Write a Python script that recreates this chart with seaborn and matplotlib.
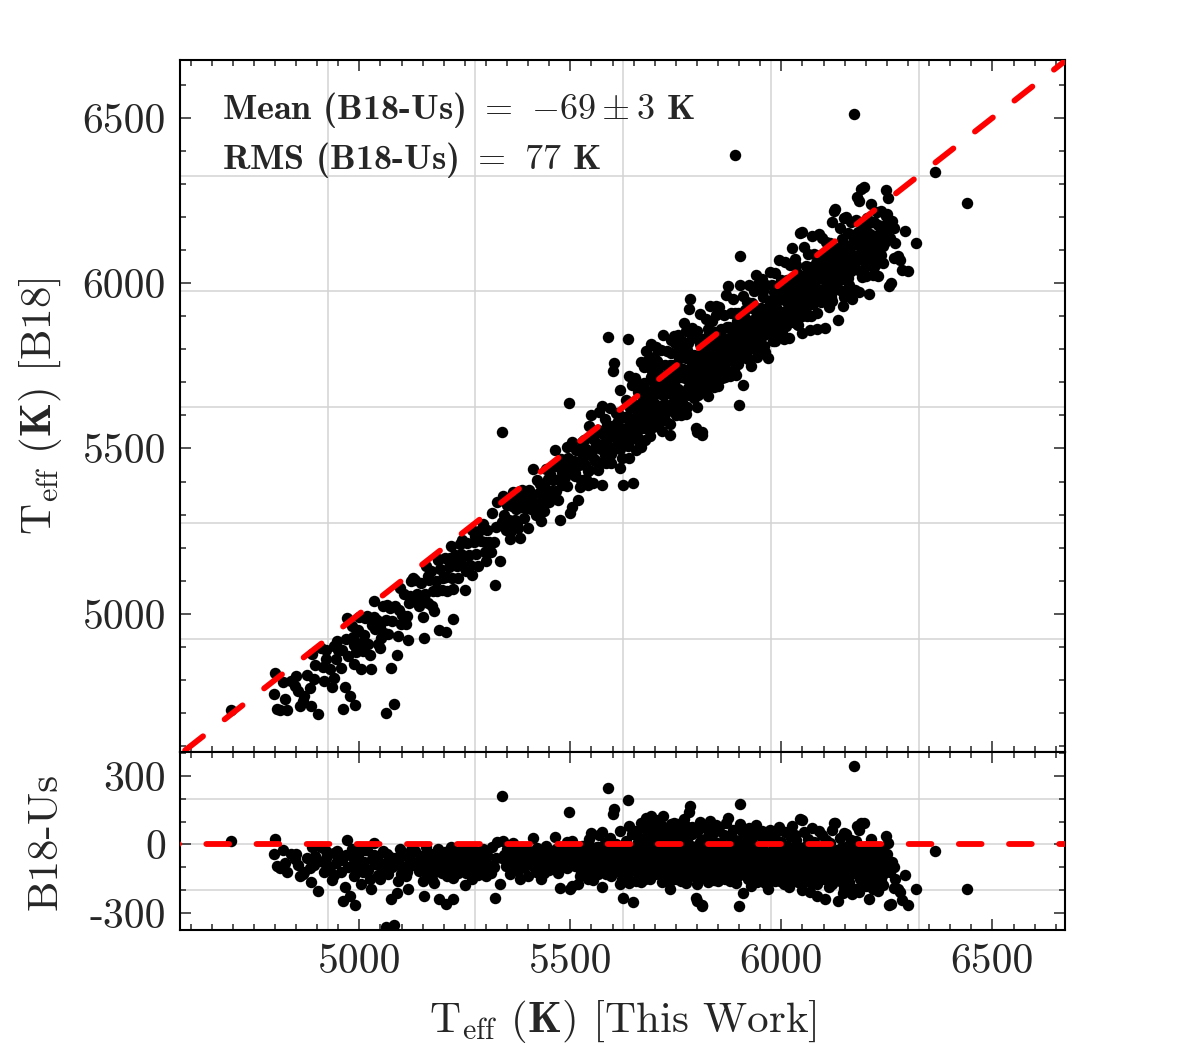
import numpy as np
import pandas as pd
import matplotlib
matplotlib.use("Agg")
import matplotlib.pyplot as plt
from matplotlib.ticker import MultipleLocator
import seaborn as sns

# ---------------- data: Teff (This Work) and B18 - Us differences ----------------
us_a = [4695, 4800, 4798, 4806, 4812, 4828, 4847, 4851, 4855, 4870,
        4882, 4886, 4902, 4888, 4908, 4914, 4922, 4930, 4935, 4940,
        4941, 4947, 4949, 4957, 4961, 4970, 4972, 4977, 4990, 4993,
        4997, 5003, 5005, 5013, 5018, 5034, 5028, 5042, 5044, 5048,
        5058, 5066, 5075, 5090, 5063, 5083, 5062, 5078, 5093, 5096,
        5115, 5123, 5112, 5092, 4960, 4985, 4988, 5010, 5020, 5025,
        5035, 5050, 5055, 5068, 5085, 5100, 5105, 5110, 5127, 5128,
        4965, 4982, 5000, 4920, 4895, 4875, 4860, 4838, 4818, 5038]
d_a = [15, 22, -40, -95, -102, -120, -65, -40, -88, -120,
       -105, -164, -206, -10, -12, -76, -60, -98, -155, -135,
       -37, -30, -60, -120, -250, 18, -100, -225, -265, -110,
       -46, -90, -172, -26, -24, 5, -194, -60, -135, -150,
       -115, -40, -238, -215, -362, -355, -80, -100, -80, -19,
       -194, -24, -120, -160, -70, -55, -140, -75, -110, -150,
       -45, -90, -30, -130, -60, -105, -45, -140, -20, -90,
       -185, -20, -10, -30, -50, -60, -140, -40, -25, -85]

us_b = [5133, 5137, 5141, 5146, 5150, 5153, 5155, 5158, 5162, 5166,
        5170, 5174, 5178, 5181, 5186, 5189, 5192, 5196, 5199, 5203,
        5205, 5208, 5212, 5216, 5219, 5222, 5222, 5226, 5231, 5234,
        5238, 5242, 5246, 5251, 5255, 5259, 5263, 5267, 5271, 5276,
        5280, 5284, 5289, 5293, 5298, 5302, 5306, 5311, 5315, 5321,
        5324, 5327, 5333, 5337, 5120, 5144, 5187, 5214, 5248, 5268]
d_b = [-30, -78, -118, -52, -160, -227, -95, -12, -130, -65,
       -40, -105, -170, -82, -20, -238, -58, -125, -90, -35,
       -261, -140, -70, -10, -110, -238, -147, -48, -85, -125,
       -28, -60, -100, -178, -42, -80, -115, -15, -55, -95,
       -135, -35, -70, -20, -110, -48, -88, -125, -10, -234,
       -60, 12, -172, 214, -65, -90, -25, -45, -72, -150]

us_c = [5340, 5343, 5347, 5350, 5354, 5357, 5361, 5364, 5368, 5371,
        5375, 5378, 5382, 5385, 5389, 5392, 5396, 5399, 5403, 5406,
        5409, 5411, 5414, 5418, 5421, 5425, 5428, 5431, 5435, 5438,
        5442, 5445, 5449, 5452, 5456, 5459, 5463, 5466, 5470, 5473,
        5475, 5477, 5481, 5484, 5488, 5491, 5495, 5496, 5499, 5500,
        5352, 5366, 5380, 5394, 5416, 5432, 5447, 5461, 5479, 5493]
d_c = [15, -45, -95, -20, -70, -130, -35, 5, -85, -55,
       -115, -25, -60, -10, -100, -40, -75, -140, -30, -90,
       -50, 27, -80, -120, -15, -60, -35, -150, -95, -45,
       -5, -70, -110, -30, -85, -55, 33, -20, -125, -65,
       -190, -10, -90, -40, -75, -105, -25, 142, -60, -194,
       -80, -15, -150, -60, -95, -75, -40, -100, -50, 10]

us_d = [5503, 5505, 5508, 5511, 5514, 5518, 5520, 5523, 5526, 5529,
        5532, 5535, 5538, 5541, 5544, 5547, 5550, 5553, 5554, 5557,
        5560, 5563, 5566, 5569, 5572, 5575, 5576, 5578, 5581, 5584,
        5587, 5590, 5591, 5593, 5596, 5600, 5601, 5603, 5605, 5608,
        5611, 5614, 5617, 5620, 5622, 5625, 5628, 5631, 5634, 5636,
        5638, 5640, 5642, 5645, 5647, 5649, 5512, 5537, 5566, 5594,
        5618, 5632, 5644, 5527, 5558, 5583, 5606, 5626, 5541, 5572]
d_d = [-180, 15, -45, -95, -20, -173, -70, -30, -120, -55,
       -5, -85, -40, -110, 25, -65, 52, -25, -157, -90,
       -50, -10, -130, 40, -75, 55, -187, -35, -100, -60,
       -15, 246, -85, 30, -140, 133, -45, 155, -70, 0,
       -110, -30, 59, -60, -150, -234, -90, 15, -40, 194,
       81, -170, -20, -100, 45, -253, -60, -130, -10, -25,
       -120, -70, -55, -8, -95, 5, -35, -80, -150, -115]

us_e = [5652, 5655, 5658, 5660, 5662, 5665, 5667, 5670, 5672, 5674,
        5676, 5678, 5680, 5682, 5684, 5686, 5688, 5690, 5692, 5694,
        5696, 5698, 5657, 5663, 5669, 5675, 5681, 5687, 5693, 5699,
        5701, 5703, 5705, 5708, 5710, 5712, 5714, 5716, 5718, 5720,
        5722, 5724, 5726, 5728, 5730, 5732, 5734, 5736, 5738, 5740,
        5742, 5744, 5746, 5748, 5750, 5706, 5713, 5721, 5729, 5737,
        5745, 5659, 5666, 5673, 5679, 5685, 5691, 5697, 5704, 5711,
        5717, 5725, 5733, 5741, 5749, 5654, 5668, 5683, 5700, 5715]
d_e = [-20, 45, -85, 10, -140, -50, 95, -30, -110, 25,
       -65, -5, 115, -95, -40, 60, -150, -15, 124, -75,
       -35, 80, -120, 5, -55, 70, -100, -25, 40, -60,
       -10, 105, -80, 20, -130, -45, 85, -20, -165, 124,
       -60, 30, -95, -5, 65, -120, -35, -194, 50, -70,
       10, -110, 95, -40, -150, 60, -25, -85, -55, 15,
       -90, -45, 30, -75, -10, -125, -60, 0, -100, 45,
       -30, -140, 5, -105, 70, 60, -165, 85, -130, -50]

us_f = [5752, 5754, 5756, 5758, 5760, 5762, 5764, 5766, 5768, 5770,
        5772, 5774, 5776, 5778, 5781, 5783, 5785, 5787, 5789, 5791,
        5793, 5795, 5797, 5799, 5801, 5803, 5805, 5807, 5809, 5811,
        5813, 5813, 5815, 5817, 5819, 5821, 5823, 5825, 5827, 5829,
        5830, 5832, 5834, 5836, 5838, 5840, 5842, 5844, 5846, 5848,
        5757, 5763, 5771, 5779, 5786, 5794, 5802, 5810, 5818, 5826,
        5834, 5843, 5761, 5775, 5790, 5806, 5822, 5839, 5755, 5849,
        5767, 5782, 5798, 5814, 5831, 5847, 5773, 5788, 5804, 5820]
d_f = [-20, 90, -75, 15, -135, -45, 60, -25, -100, 110,
       -60, 0, -150, 40, 142, 169, -85, -35, 75, -115,
       -10, -65, -234, -249, 55, -130, -40, 100, -90, 20,
       -271, -264, -50, -5, -120, 70, -30, -165, 35, -75,
       102, -15, -105, 50, -55, -140, 10, -85, 85, -35,
       -110, 25, -50, -95, -5, -70, -140, -25, -60, 15,
       -120, -45, -160, 80, -30, -115, -95, -70, 30, -160,
       -40, -120, -20, -100, -65, -10, -170, 45, -60, -145]

us_g = [5851, 5853, 5855, 5857, 5859, 5861, 5863, 5865, 5867, 5869,
        5871, 5874, 5876, 5878, 5880, 5882, 5884, 5886, 5888, 5890,
        5892, 5894, 5896, 5898, 5900, 5901, 5903, 5903, 5905, 5908,
        5910, 5912, 5914, 5916, 5918, 5920, 5922, 5924, 5926, 5928,
        5930, 5932, 5934, 5936, 5938, 5940, 5942, 5944, 5946, 5948,
        5856, 5864, 5872, 5881, 5889, 5897, 5906, 5915, 5923, 5931,
        5939, 5947, 5860, 5877, 5893, 5909, 5925, 5941, 5868, 5885]
d_g = [-20, 75, -90, 5, -145, -55, 40, -30, -110, 95,
       -65, 117, -10, -160, 30, -80, -40, 65, -125, 498,
       -25, -95, 15, -60, -268, -130, 179, 90, -45, -215,
       50, -110, -20, -75, 25, -150, -35, 70, -95, -180,
       -5, -60, -120, 40, -85, -15, -165, 55, -50, -100,
       -120, -70, -5, -100, 20, -140, -80, -130, -60, 10,
       -40, -145, -45, -90, -170, -30, -115, 85, -100, -60]

us_h = [5951, 5953, 5955, 5957, 5959, 5961, 5963, 5965, 5968, 5970,
        5972, 5974, 5976, 5978, 5980, 5982, 5984, 5986, 5988, 5990,
        5992, 5994, 5996, 5998, 6000, 6002, 6004, 6006, 6008, 6010,
        6012, 6014, 6016, 6018, 6020, 6022, 6024, 6026, 6028, 6030,
        6032, 6034, 6036, 6038, 6040, 6043, 6045, 6047, 6048, 6050,
        5958, 5967, 5977, 5987, 5997, 6007, 6017, 6027, 6037, 6046,
        5962, 5981, 6001, 6021, 6041, 5973, 5993, 6013, 6033, 6049]
d_h = [-25, 60, -95, 0, -150, -50, 30, -70, -194, -115,
       62, -35, -130, 15, -80, -10, -160, 45, -60, -105,
       -20, 75, -140, -45, 10, -90, -30, -175, 55, -65,
       -120, -5, -55, -185, 35, -100, -40, 80, -145, -15,
       -75, 20, -160, -50, -110, 110, -25, -90, 107, -200,
       -115, -80, -60, -125, -100, -20, -85, -120, -5, -60,
       -170, -30, -150, -65, -135, -90, -40, -95, 40, -130]

us_i = [6052, 6054, 6056, 6058, 6060, 6062, 6064, 6066, 6068, 6070,
        6072, 6074, 6076, 6078, 6080, 6082, 6084, 6085, 6088, 6090,
        6092, 6094, 6096, 6098, 6100, 6102, 6103, 6105, 6107, 6109,
        6111, 6113, 6115, 6117, 6119, 6121, 6124, 6126, 6128, 6130,
        6132, 6134, 6136, 6138, 6140, 6142, 6144, 6146, 6148, 6150,
        6057, 6067, 6077, 6087, 6097, 6108, 6118, 6129, 6139, 6149,
        6061, 6081, 6101, 6121, 6141, 6071, 6091, 6112, 6133, 6145]
d_i = [-30, 55, -105, -5, -160, -60, 25, -85, -209, -130,
       70, -40, -140, 10, -95, -20, -175, -224, 60, -70,
       -115, -10, 40, -55, -150, -90, -239, 20, -125, -35,
       -80, -185, 5, -45, -110, 65, 95, -70, 96, -140,
       -25, -246, -95, 30, -160, -55, -10, -120, 50, -85,
       -120, -45, -75, -105, -20, -65, -150, -30, -100, -190,
       -90, -125, -40, -100, -75, -170, -145, -25, -60, -215]

us_j = [6152, 6154, 6156, 6158, 6160, 6162, 6164, 6166, 6168, 6170,
        6171, 6172, 6174, 6176, 6178, 6180, 6182, 6184, 6186, 6189,
        6191, 6193, 6195, 6197, 6199, 6201, 6203, 6205, 6207, 6209,
        6211, 6213, 6215, 6218, 6220, 6222, 6224, 6226, 6228, 6230,
        6232, 6235, 6237, 6240, 6242, 6245, 6247, 6249, 6157, 6167,
        6177, 6187, 6198, 6208, 6217, 6227, 6238, 6163, 6183, 6216]
d_j = [-40, 45, -110, -5, -165, -70, 20, -130, -216, -85,
       342, -30, -195, 15, -100, 81, -55, 65, -150, 95,
       -75, -20, 96, -125, -45, -180, -5, -90, -240, -60,
       -115, 25, -160, -194, -35, -80, -130, -10, -205, -55,
       -100, -150, -20, -178, -70, -120, 36, -45, -140, -20,
       -60, -115, -150, -25, -95, -165, -90, -100, -210, -130]

us_k = [6250, 6255, 6258, 6262, 6266, 6270, 6276, 6280, 6292, 6300,
        6318, 6363, 6440, 6253, 6260, 6268, 6285]
d_k = [-40, -264, -120, -75, -190, -150, -194, -210, -135, -264,
       -197, -28, -197, 5, -259, -100, -245]

us_m = [5552, 5561, 5571, 5579, 5588, 5597, 5604, 5613, 5621, 5629,
        5637, 5646, 5653, 5661, 5669, 5677, 5685, 5694, 5702, 5709,
        5717, 5724, 5731, 5739, 5747, 5753, 5759, 5765, 5771, 5777,
        5784, 5792, 5799, 5806, 5813, 5820, 5828, 5835, 5841, 5849,
        5854, 5862, 5870, 5879, 5887, 5895, 5902, 5911, 5919, 5927,
        5935, 5943, 5950, 5956, 5964, 5971, 5979, 5985, 5991, 5999,
        6005, 6011, 6019, 6025, 6031, 6039, 6044, 6051, 6059, 6065,
        6073, 6079, 6086, 6093, 6099, 6106, 6114, 6120, 6127, 6135,
        6143, 6151, 6159, 6165, 6173, 6181, 6188, 6196, 6204, 6212,
        6219, 6225, 6233, 6241, 6246, 5565, 5585, 5610, 5655, 5690,
        5712, 5735, 5758, 5780, 5800, 5824, 5845, 5866, 5890, 5913,
        5933, 5957, 5980, 6003, 6027, 6050, 6074, 6097, 6120, 6144,
        6168, 6190, 6214, 6236, 5617, 5641, 5664, 5688, 5726, 5763,
        5796, 5832, 5869, 5904, 5942, 5976, 6012, 6046, 6084, 6118,
        6153, 6186, 6222, 5696, 5744, 5788, 5859, 5918, 5996, 6063]
d_m = [-60, -100, -20, -80, -45, -115, -65, -5, -95, -35,
       -130, -75, -100, -35, 15, -150, -45, -110, 50, -80,
       -120, -10, -60, 90, -135, -85, -15, -125, -40, 20,
       -90, -140, -55, 10, -115, -40, -100, -20, -155, -75,
       -130, -35, -90, -50, -150, -10, -105, -70, -125, -40,
       -95, -20, -130, -75, -110, -45, -155, -10, -85, -120,
       -50, -140, -70, -25, -105, -165, -45, -90, -135, -15,
       -110, -60, -30, -150, -85, -120, -55, -175, -100, -45,
       -130, -70, -185, -50, -120, -25, -95, -60, -140, -85,
       -170, -110, -60, -130, -90, -50, -130, -85, -160, 25,
       -15, -160, 45, -5, -175, -110, 60, -150, -75, 5,
       -130, 20, -95, -110, -55, -150, -90, -130, -50, -100,
       -50, -170, -100, -75, -175, -115, -70, -90, -105, -135,
       -80, -95, -135, -60, -110, -70, -130, -100, -115, -160,
       -95, -35, -145, -130, -60, -15, -110, -140, -160, -120]

us_n = [4823, 4866, 4893, 4917, 4944, 4968, 4987, 5008, 5030, 5052,
        5072, 5098, 5118, 5139, 5163, 5184, 5206, 5229, 5253, 5274,
        5297, 5318, 5339, 5359, 5381, 5402, 5424, 5446, 5467, 5489,
        5510, 5531, 5545, 5556, 5173, 5244, 5301, 5373, 5437, 5522]
d_n = [-80, -130, -90, -120, -80, -45, -80, -120, -65, -125,
       -55, -130, -85, -100, -50, -115, -95, -70, -125, -40,
       -80, -100, -60, -110, -45, -65, -110, -85, -95, -35,
       -85, -60, -110, -15, -150, -20, -140, -100, -125, -140]

# ---------------- assemble ----------------
teff_us = np.array(us_a + us_b + us_c + us_d + us_e + us_f + us_g + us_h
                   + us_i + us_j + us_k + us_m + us_n, dtype=float)
delta = np.array(d_a + d_b + d_c + d_d + d_e + d_f + d_g + d_h
                 + d_i + d_j + d_k + d_m + d_n, dtype=float)
teff_b18 = teff_us + delta
df = pd.DataFrame({"us": teff_us, "b18": teff_b18, "diff": delta})

# ---------------- style ----------------
sns.set_style("white")
plt.rcParams.update({
    "font.family": ["cmr10", "DejaVu Serif"],
    "mathtext.fontset": "cm",
    "axes.unicode_minus": False,
    "axes.formatter.use_mathtext": False,
    "axes.linewidth": 1.5,
    "axes.edgecolor": "black",
})

fig = plt.figure(figsize=(12, 10.5), dpi=100)
ax = fig.add_axes([0.15, 1 - 752 / 1050, 0.7375, 692 / 1050])
axr = fig.add_axes([0.15, 1 - 930 / 1050, 0.7375, 178 / 1050], sharex=ax)

xlim = (4575, 6672)
ylim = (4582, 6675)
grid_vals = [4925, 5275, 5625, 5975, 6325]
gcol = "#d3d3d3"

for g in grid_vals:
    ax.axvline(g, color=gcol, lw=1.1, zorder=0)
    ax.axhline(g, color=gcol, lw=1.1, zorder=0)
    axr.axvline(g, color=gcol, lw=1.1, zorder=0)
for g in [-200, 0, 200]:
    axr.axhline(g, color=gcol, lw=1.1, zorder=0)

sns.scatterplot(data=df, x="us", y="b18", ax=ax, color="black", s=68,
                linewidth=0, zorder=3, legend=False)
sns.scatterplot(data=df, x="us", y="diff", ax=axr, color="black", s=68,
                linewidth=0, zorder=3, legend=False)

line = np.array([4400, 6900])
ax.plot(line, line, color="red", lw=4.2, ls=(0, (3.9, 4.7)),
        dash_capstyle="round", zorder=4)
axr.plot(line, [0, 0], color="red", lw=4.2, ls=(0, (3.9, 4.7)),
         dash_capstyle="round", zorder=4)

ax.set_xlim(*xlim)
ax.set_ylim(*ylim)
axr.set_ylim(-375, 405)

ax.xaxis.set_major_locator(MultipleLocator(500))
ax.xaxis.set_minor_locator(MultipleLocator(50))
ax.yaxis.set_major_locator(MultipleLocator(500))
ax.yaxis.set_minor_locator(MultipleLocator(100))
axr.yaxis.set_major_locator(MultipleLocator(300))
axr.yaxis.set_minor_locator(MultipleLocator(100))

for a in (ax, axr):
    a.tick_params(which="both", direction="in", top=True, right=True,
                  bottom=True, left=True, width=1.1, labelsize=30, pad=10)
    a.tick_params(which="major", length=8)
    a.tick_params(which="minor", length=4.5)
    for sp in a.spines.values():
        sp.set_linewidth(1.5)
        sp.set_color("black")
ax.tick_params(labelbottom=False)

ax.set_xlabel("")
ax.set_ylabel(r"$\rm T_{eff}$ $\mathbf{(K)}$ [B18]", fontsize=31)
ax.yaxis.set_label_coords(-0.131, 0.5)
axr.set_ylabel("B18-Us", fontsize=31)
axr.yaxis.set_label_coords(-0.131, 0.5)
axr.set_xlabel(r"$\rm T_{eff}$ $\mathbf{(K)}$ [This Work]", fontsize=31, labelpad=12)

ax.text(0.047, 0.928, r"Mean (B18-Us) $=$ $-69 \pm 3$ K", transform=ax.transAxes,
        family="cmb10", fontsize=26, va="center", ha="left")
ax.text(0.047, 0.855, r"RMS (B18-Us) $=$ $77$ K", transform=ax.transAxes,
        family="cmb10", fontsize=26, va="center", ha="left")

fig.savefig("out.png", dpi=100)
